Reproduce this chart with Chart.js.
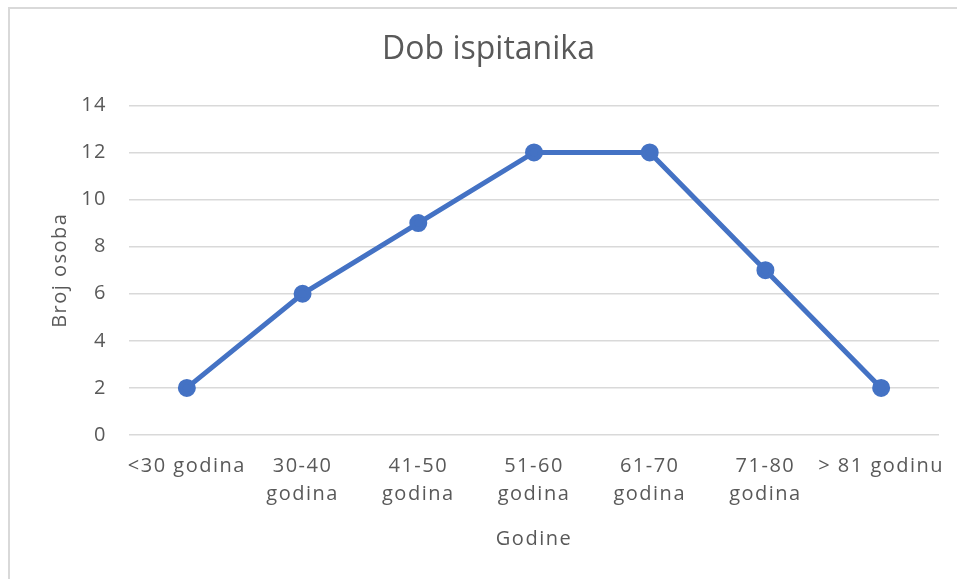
<!DOCTYPE html>
<html>
<head>
<meta charset="utf-8">
<script src="https://cdn.jsdelivr.net/npm/chart.js@4.4.0/dist/chart.umd.min.js"></script>
<style>
	html, body { margin: 0; padding: 0; background: #fff; overflow: hidden; }
	#frame { position: absolute; left: 8px; top: 7px; width: 1000px; height: 700px; border-left: 2px solid #d9d9d9; border-top: 2px solid #d9d9d9; }
	#chart { position: absolute; left: 0; top: 0; }
</style>
</head>
<body>
<div id="frame"></div>
<canvas id="chart" width="957" height="579"></canvas>
<script>
const ageGroups = ["<30 godina", ["30-40", "godina"], ["41-50", "godina"], ["51-60", "godina"], ["61-70", "godina"], ["71-80", "godina"], "> 81 godinu"]
const peopleCount = [2, 6, 9, 12, 12, 7, 2]
const yTicks = [0, 2, 4, 6, 8, 10, 12, 14]

const textColor = "#595959"
const fontFamily = "'Open Sans', 'Liberation Sans', sans-serif"
const spacing = "1.5px"

// axis text in the picture is widely spaced, the title is not
const letterSpacing = {
	id: "letterSpacing",
	beforeLayout(chart) { chart.ctx.letterSpacing = spacing },
	beforeDraw(chart) {
		chart.ctx.letterSpacing = spacing
		const t = chart.titleBlock
		if (t && !t._plain) {
			const draw = t.draw.bind(t)
			t.draw = function(area) {
				const old = chart.ctx.letterSpacing
				chart.ctx.letterSpacing = "0px"
				draw(area)
				chart.ctx.letterSpacing = old
			}
			t._plain = true
		}
	}
}

new Chart(document.getElementById("chart").getContext("2d"), {
	type: "line",
	data: {
		labels: ageGroups,
		datasets: [{
			label: "Broj osoba",
			data: peopleCount,
			borderColor: "#4472C4",
			backgroundColor: "#4472C4",
			borderWidth: 5,
			pointRadius: 6.5,
			pointHoverRadius: 6.5,
			tension: 0
		}]
	},
	plugins: [letterSpacing],
	options: {
		responsive: false,
		animation: false,
		devicePixelRatio: 1,
		layout: { padding: { top: 31, right: 18, bottom: 24, left: 38 } },
		plugins: {
			legend: { display: false },
			tooltip: { enabled: false },
			title: {
				display: true,
				text: "Dob ispitanika",
				color: textColor,
				font: { family: fontFamily, size: 32, weight: "normal" },
				padding: { top: 0, bottom: 36 }
			}
		},
		scales: {
			x: {
				offset: true,
				afterFit: (axis) => { axis.paddingLeft = 0; axis.paddingRight = 0 },
				grid: { display: false, drawTicks: false },
				border: { display: false },
				ticks: {
					color: textColor,
					font: { family: fontFamily, size: 20, lineHeight: 1.4 },
					padding: 17,
					maxRotation: 0,
					autoSkip: false
				},
				title: {
					display: true,
					text: "Godine",
					color: textColor,
					font: { family: fontFamily, size: 20 },
					padding: { top: 2, bottom: 4 }
				}
			},
			y: {
				min: 0,
				max: 14,
				afterBuildTicks: (axis) => { axis.ticks = yTicks.map((v) => ({ value: v })) },
				afterFit: (axis) => { axis.width = 91 },
				grid: { color: "#d9d9d9", lineWidth: 1.5, drawTicks: false },
				border: { display: false },
				ticks: {
					color: textColor,
					font: { family: fontFamily, size: 20 },
					padding: 22
				},
				title: {
					display: true,
					text: "Broj osoba",
					color: textColor,
					font: { family: fontFamily, size: 20 },
					padding: { top: 10, bottom: 10 }
				}
			}
		}
	}
})
</script>
</body>
</html>
